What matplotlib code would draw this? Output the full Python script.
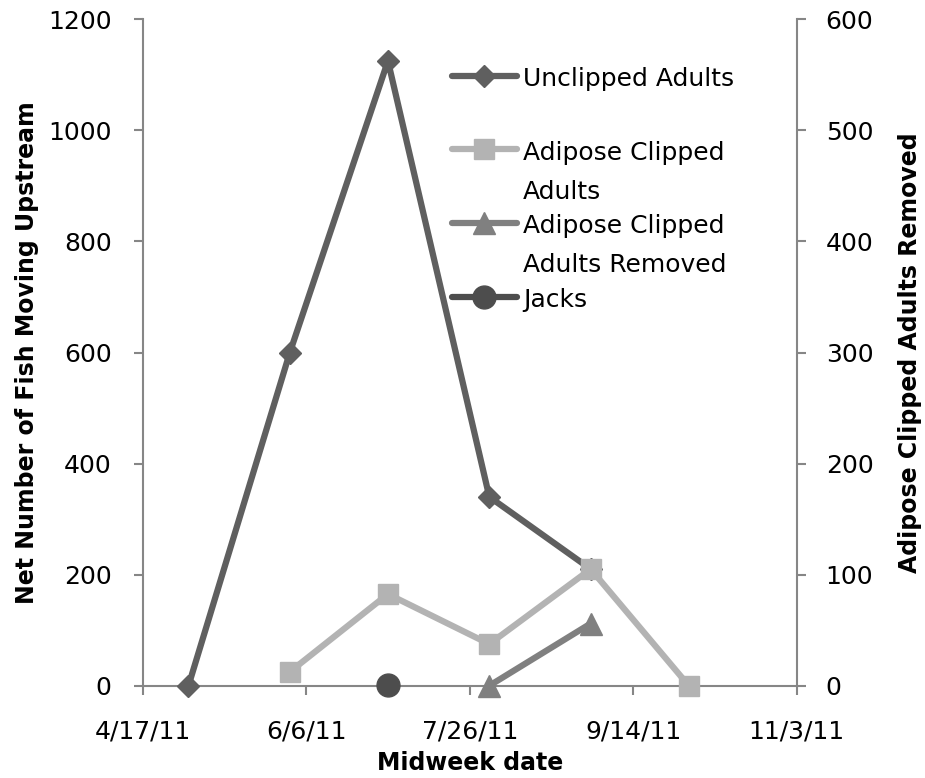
import matplotlib
matplotlib.use("Agg")
import matplotlib.pyplot as plt
import matplotlib.dates as mdates

plt.rcParams['font.family'] = ['DejaVu Sans']

# ---- data ----
unclipped_dates = ["2011-05-01", "2011-06-01", "2011-07-01", "2011-08-01", "2011-09-01"]
unclipped_adults = [0, 600, 1125, 340, 210]
clipped_dates = ["2011-06-01", "2011-07-01", "2011-08-01", "2011-09-01", "2011-10-01"]
clipped_adults = [25, 165, 75, 210, 0]
removed_dates = ["2011-08-01", "2011-09-01"]
clipped_removed = [0, 56]
jacks_dates = ["2011-07-01"]
jacks = [2]

xtick_dates = ["2011-04-17", "2011-06-06", "2011-07-26", "2011-09-14", "2011-11-03"]
xtick_labels = ["4/17/11", "6/6/11", "7/26/11", "9/14/11", "11/3/11"]
left_ticks = [0, 200, 400, 600, 800, 1000, 1200]
right_ticks = [0, 100, 200, 300, 400, 500, 600]
series_labels = ["Unclipped Adults\n", "Adipose Clipped\nAdults",
                 "Adipose Clipped\nAdults Removed", "Jacks"]

# ---- figure ----
W, H = 925, 778
fig = plt.figure(figsize=(W / 100, H / 100), dpi=100)
x0, x1, y0, y1 = 142.7, 796.7, 19.3, 685.7
ax = fig.add_axes([x0 / W, 1 - y1 / H, (x1 - x0) / W, (y1 - y0) / H])
ax2 = ax.twinx()

d = mdates.datestr2num
common = dict(lw=4.5, clip_on=False, solid_capstyle='round', solid_joinstyle='round')
l1, = ax.plot(d(unclipped_dates), unclipped_adults, color='#5f5f5f', marker='D', ms=11.5,
              mec='#5f5f5f', zorder=3, **common)
l2, = ax.plot(d(clipped_dates), clipped_adults, color='#b3b3b3', marker='s', ms=15,
              mec='#b3b3b3', zorder=4, **common)
l4, = ax.plot(d(jacks_dates), jacks, color='#4d4d4d', marker='o', ms=16.5,
              mec='#4d4d4d', zorder=5, **common)
l3, = ax2.plot(d(removed_dates), clipped_removed, color='#808080', marker='^', ms=16,
               mec='#808080', zorder=3, **common)

grey = '#868686'
for a in (ax, ax2):
    for s in a.spines.values():
        s.set_color(grey)
        s.set_linewidth(1.5)
    a.spines['top'].set_visible(False)
ax.spines['right'].set_visible(False)
ax2.spines['left'].set_visible(False)
ax2.spines['bottom'].set_visible(False)

ax.set_xlim(d(xtick_dates[0]), d(xtick_dates[-1]))
ax.set_xticks(d(xtick_dates))
ax.set_xticklabels(xtick_labels)
ax.set_ylim(0, 1200)
ax.set_yticks(left_ticks)
ax2.set_ylim(0, 600)
ax2.set_yticks(right_ticks)

ax.tick_params(axis='x', direction='out', length=6.5, width=1.5, color=grey, labelsize=18, pad=17.5)
ax.tick_params(axis='y', direction='out', length=6.5, width=1.5, color=grey, labelsize=18, pad=15.8)
ax2.tick_params(axis='y', direction='out', length=6.5, width=1.5, color=grey, labelsize=18, pad=14.4)

ax.set_xlabel("Midweek date", fontsize=17, fontweight='bold', labelpad=6)
ax.set_ylabel("Net Number of Fish Moving Upstream", fontsize=17, fontweight='bold', labelpad=6.5)
ax2.set_ylabel("Adipose Clipped Adults Removed", fontsize=17, fontweight='bold', labelpad=17.5)

leg = ax2.legend([l1, l2, l3, l4], series_labels, loc='upper left',
                 bbox_to_anchor=(451.7 / W, 1 - 66.8 / H), bbox_transform=fig.transFigure,
                 frameon=False, fontsize=18, borderpad=0, borderaxespad=0,
                 handlelength=2.6, handletextpad=0.25, labelspacing=0.43)
for t in leg.get_texts():
    t.set_linespacing(1.79)
for col in leg._legend_handle_box.get_children():
    for row in col.get_children():
        row.align = 'top'

fig.savefig("out.png", dpi=100)
